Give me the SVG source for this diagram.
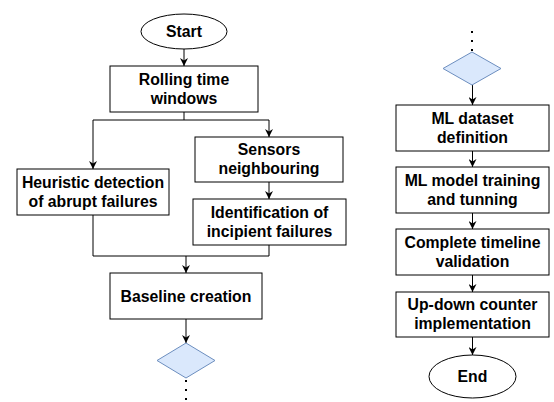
<svg xmlns="http://www.w3.org/2000/svg" width="554" height="402" viewBox="0 0 554 402">
<style>
.box{fill:#ffffff;stroke:#000000;stroke-width:1}
.dec{fill:#dae8fc;stroke:#6c8ebf;stroke-width:1}
.t{font-family:"Liberation Sans",Arial,sans-serif;font-weight:bold;font-size:15.8px;fill:#000000;text-anchor:middle}
.c{fill:none;stroke:#000000;stroke-width:1}
.a{marker-end:url(#arr)}
.dot{fill:none;stroke:#000000;stroke-width:2;stroke-dasharray:2 7}
</style>
<defs>
<marker id="arr" viewBox="0 0 10 10" refX="10" refY="5" markerWidth="8" markerHeight="8" markerUnits="userSpaceOnUse" orient="auto">
<path d="M0,0 L10,5 L0,10 L3,5 Z" fill="#000000"/>
</marker>
</defs>
<rect width="554" height="402" fill="#ffffff"/>
<g id="connectors">
<line class="c a" x1="184" y1="49" x2="184" y2="66"/>
<polyline class="c" points="184,112 184,120"/>
<polyline class="c a" points="184,120 93,120 93,169"/>
<polyline class="c a" points="184,120 269,120 269,137"/>
<line class="c a" x1="269" y1="182" x2="269" y2="199"/>
<polyline class="c" points="93,215 93,256 269,256 269,245"/>
<line class="c a" x1="186" y1="256" x2="186" y2="273"/>
<line class="c a" x1="186" y1="319" x2="186" y2="343"/>
<line class="dot" x1="186" y1="380" x2="186" y2="401"/>
<line class="dot" x1="472" y1="31" x2="472" y2="52"/>
<line class="c a" x1="472.5" y1="85" x2="472.5" y2="105"/>
<line class="c a" x1="472.5" y1="151" x2="472.5" y2="167"/>
<line class="c a" x1="472.5" y1="213" x2="472.5" y2="229"/>
<line class="c a" x1="472.5" y1="275" x2="472.5" y2="292"/>
<line class="c a" x1="472.5" y1="337" x2="472.5" y2="355"/>
</g>
<g id="start">
<ellipse class="box" cx="184" cy="31.5" rx="43" ry="17.5"/>
<text class="t" x="184" y="37">Start</text>
</g>
<g id="rolling">
<rect class="box" x="110" y="66" width="148" height="46"/>
<text class="t" x="184" y="85.2">Rolling time</text>
<text class="t" x="184" y="104.2">windows</text>
</g>
<g id="heuristic">
<rect class="box" x="17" y="169" width="152" height="46"/>
<text class="t" x="93" y="187.7">Heuristic detection</text>
<text class="t" x="93" y="206.7">of abrupt failures</text>
</g>
<g id="sensors">
<rect class="box" x="195" y="137" width="148" height="45"/>
<text class="t" x="269" y="155.2">Sensors</text>
<text class="t" x="269" y="174.2">neighbouring</text>
</g>
<g id="identification">
<rect class="box" x="193" y="199" width="153" height="46"/>
<text class="t" x="269.5" y="217.7">Identification of</text>
<text class="t" x="269.5" y="236.7">incipient failures</text>
</g>
<g id="baseline">
<rect class="box" x="110" y="273" width="152" height="46"/>
<text class="t" x="186" y="301.7">Baseline creation</text>
</g>
<g id="decision1">
<polygon class="dec" points="186,343 215,360.5 186,378 157,360.5"/>
</g>
<g id="decision2">
<polygon class="dec" points="472,52 501,68.5 472,85 443,68.5"/>
</g>
<g id="mldataset">
<rect class="box" x="396" y="105" width="153" height="46"/>
<text class="t" x="472.5" y="123.7">ML dataset</text>
<text class="t" x="472.5" y="142.7">definition</text>
</g>
<g id="mlmodel">
<rect class="box" x="396" y="167" width="153" height="46"/>
<text class="t" x="472.5" y="185.7">ML model training</text>
<text class="t" x="472.5" y="204.7">and tunning</text>
</g>
<g id="complete">
<rect class="box" x="396" y="229" width="153" height="46"/>
<text class="t" x="472.5" y="247.7">Complete timeline</text>
<text class="t" x="472.5" y="266.7">validation</text>
</g>
<g id="updown">
<rect class="box" x="396" y="292" width="153" height="45"/>
<text class="t" x="472.5" y="310.2">Up-down counter</text>
<text class="t" x="472.5" y="329.2">implementation</text>
</g>
<g id="end">
<ellipse class="box" cx="472.5" cy="376.5" rx="43.5" ry="21.5"/>
<text class="t" x="472.5" y="382">End</text>
</g>
</svg>
